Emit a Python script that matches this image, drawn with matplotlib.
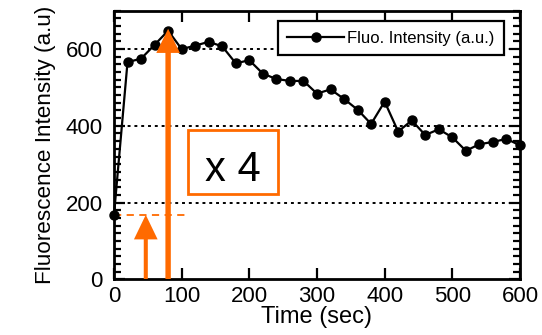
import matplotlib

matplotlib.use("Agg")
import matplotlib.pyplot as plt
import matplotlib.ticker as mticker
from matplotlib.patches import Rectangle

plt.rcParams["font.family"] = ["Liberation Sans", "DejaVu Sans"]

ORANGE = "#ff6a00"

time_s = [0, 20, 40, 60, 80, 100, 120, 140, 160, 180, 200, 220, 240, 260, 280, 300,
          320, 340, 360, 380, 400, 420, 440, 460, 480, 500, 520, 540, 560, 580, 600]
intensity = [168, 566, 575, 611, 648, 600, 609, 619, 607, 563, 571, 536, 522, 517, 517, 484,
             495, 470, 442, 405, 463, 385, 414, 376, 391, 370, 335, 352, 358, 366, 349]

baseline_value = 168
baseline_x_end = 110
big_arrow_x, big_arrow_top = 80, 653
small_arrow_x = 47
box_x, box_y, box_w, box_h = 110, 222, 132, 168
box_label = "x 4"

fig = plt.figure(figsize=(5.42, 3.35), dpi=100)
ax = fig.add_axes([0.2103, 0.1663, 0.7491, 0.8017])

ax.plot(time_s, intensity, color="black", lw=1.6, marker="o", ms=6.5,
        label="Fluo. Intensity (a.u.)", zorder=3, clip_on=False)

for y in (200, 400, 600):
    ax.axhline(y, color="black", ls=(0, (1.5, 2.0)), lw=1.4, zorder=1)

# annotations
ax.plot([0, baseline_x_end], [baseline_value, baseline_value], color=ORANGE,
        ls=(0, (4, 3)), lw=1.3, zorder=2)
ax.arrow(big_arrow_x, 0, 0, big_arrow_top, width=8.0, head_width=35, head_length=63,
         length_includes_head=True, color=ORANGE, lw=0, zorder=4)
ax.arrow(small_arrow_x, 0, 0, baseline_value, width=6.0, head_width=35, head_length=64,
         length_includes_head=True, color=ORANGE, lw=0, zorder=4)
ax.add_patch(Rectangle((box_x, box_y), box_w, box_h, fill=False, edgecolor=ORANGE,
                       lw=2.0, zorder=2))
ax.text(box_x + box_w / 2, 255, box_label, ha="center", va="baseline",
        fontsize=30, color="black", zorder=5)

ax.set_xlim(0, 600)
ax.set_ylim(0, 700)
ax.xaxis.set_major_locator(mticker.MultipleLocator(100))
ax.yaxis.set_major_locator(mticker.MultipleLocator(200))
ax.yaxis.set_minor_locator(mticker.MultipleLocator(20))
ax.tick_params(axis="both", which="both", direction="in", top=True, right=True,
               width=1.6, labelsize=16)
ax.tick_params(axis="both", which="major", length=8)
ax.tick_params(axis="y", which="minor", length=5)
ax.tick_params(axis="y", which="major", pad=8)
ax.tick_params(axis="x", which="major", pad=5)
for s in ax.spines.values():
    s.set_linewidth(2.0)

ax.set_xlabel("Time (sec)", fontsize=17, labelpad=-1)
ax.set_ylabel("Fluorescence Intensity (a.u)", fontsize=16.2, labelpad=7)

leg = ax.legend(loc="upper right", bbox_to_anchor=(0.96, 0.96), fontsize=12,
                frameon=True, fancybox=False, borderpad=0.55, handlelength=3.4,
                handletextpad=0.2, borderaxespad=0)
leg.get_frame().set_edgecolor("black")
leg.get_frame().set_linewidth(1.6)
leg.get_frame().set_alpha(1)

fig.savefig("out.png", dpi=100)
